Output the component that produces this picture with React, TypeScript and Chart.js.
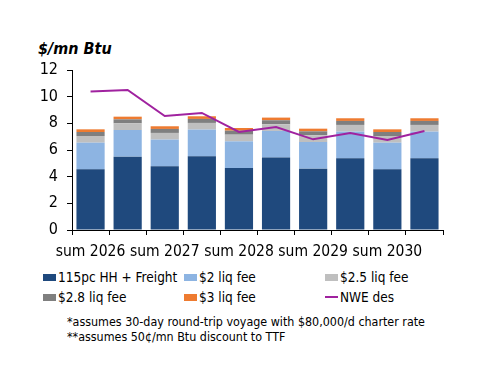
import React, { useEffect, useRef } from "react";
import { Chart, registerables } from "chart.js";

Chart.register(...registerables);

const categories = [
  "sum 2026", "win 2026", "sum 2027", "win 2027", "sum 2028",
  "win 2028", "sum 2029", "win 2029", "sum 2030", "win 2030",
];
const baseHHFreight = [4.55, 5.5, 4.78, 5.53, 4.65, 5.43, 4.6, 5.38, 4.55, 5.38];
const liq2 = [2.0, 2.0, 2.0, 2.0, 2.0, 2.0, 2.0, 2.0, 2.0, 2.0];
const liq25 = [0.5, 0.5, 0.5, 0.5, 0.5, 0.5, 0.5, 0.5, 0.5, 0.5];
const liq28 = [0.3, 0.3, 0.3, 0.3, 0.3, 0.3, 0.3, 0.3, 0.3, 0.3];
const liq3 = [0.2, 0.2, 0.2, 0.2, 0.2, 0.2, 0.2, 0.2, 0.2, 0.2];
const nweDes = [10.38, 10.5, 8.55, 8.78, 7.35, 7.73, 6.8, 7.28, 6.75, 7.43];
const yTicks = [0, 2, 4, 6, 8, 10, 12];

const COLORS = {
  base: "#1F497D",
  liq2: "#8DB4E2",
  liq25: "#BFBFBF",
  liq28: "#7F7F7F",
  liq3: "#EE7B30",
  nwe: "#A0229F",
};

const FONT = "'DejaVu Sans Condensed', 'DejaVu Sans', sans-serif";

const legendItems = [
  { label: "115pc HH + Freight", color: COLORS.base, type: "box" },
  { label: "$2 liq fee", color: COLORS.liq2, type: "box" },
  { label: "$2.5 liq fee", color: COLORS.liq25, type: "box" },
  { label: "$2.8 liq fee", color: COLORS.liq28, type: "box" },
  { label: "$3 liq fee", color: COLORS.liq3, type: "box" },
  { label: "NWE des", color: COLORS.nwe, type: "line" },
];

export default function App() {
  const canvasRef = useRef<HTMLCanvasElement | null>(null);

  useEffect(() => {
    if (!canvasRef.current) return;
    const barCommon = { stack: "bars", order: 1, barPercentage: 0.76, categoryPercentage: 1.0 };
    const chart = new Chart(canvasRef.current, {
      type: "bar",
      data: {
        labels: categories,
        datasets: [
          { label: "115pc HH + Freight", data: baseHHFreight, backgroundColor: COLORS.base, ...barCommon },
          { label: "$2 liq fee", data: liq2, backgroundColor: COLORS.liq2, ...barCommon },
          { label: "$2.5 liq fee", data: liq25, backgroundColor: COLORS.liq25, ...barCommon },
          { label: "$2.8 liq fee", data: liq28, backgroundColor: COLORS.liq28, ...barCommon },
          { label: "$3 liq fee", data: liq3, backgroundColor: COLORS.liq3, ...barCommon },
          {
            type: "line",
            label: "NWE des",
            data: nweDes,
            borderColor: COLORS.nwe,
            backgroundColor: COLORS.nwe,
            borderWidth: 2,
            pointRadius: 0,
            tension: 0,
            stack: "line",
            order: 0,
          } as any,
        ],
      },
      options: {
        animation: false,
        responsive: false,
        maintainAspectRatio: false,
        layout: { padding: { left: 0, right: 57, top: 70, bottom: 0 } },
        plugins: {
          legend: { display: false },
          tooltip: { enabled: false },
          title: { display: false },
        },
        scales: {
          x: {
            stacked: true,
            grid: {
              display: true,
              drawOnChartArea: false,
              drawTicks: true,
              tickLength: 5,
              color: "#000",
              offset: true,
            },
            border: { display: true, color: "#000", width: 1 },
            ticks: {
              autoSkip: false,
              maxRotation: 0,
              color: "#000",
              padding: 8,
              font: { family: FONT, size: 15.5 },
              callback: (_v: any, i: number) => (i % 2 === 0 ? categories[i] : ""),
            },
            afterFit: (scale: any) => {
              scale.height = 35;
            },
          },
          y: {
            stacked: true,
            min: 0,
            max: 12,
            grid: {
              display: true,
              drawOnChartArea: false,
              drawTicks: true,
              tickLength: 5,
              color: "#000",
            },
            border: { display: true, color: "#000", width: 1 },
            ticks: {
              stepSize: 2,
              color: "#000",
              padding: 9,
              font: { family: FONT, size: 16 },
              callback: (v: any) => (yTicks.includes(Number(v)) ? String(v) : ""),
            },
            afterFit: (scale: any) => {
              scale.width = 72;
            },
          },
        },
      },
    });
    return () => chart.destroy();
  }, []);

  const colX = [43, 184, 325];
  const rowY = [277, 297];

  return (
    <div style={{ position: "absolute", left: 0, top: 0, width: 500, height: 386, background: "#fff", fontFamily: FONT }}>
      <div
        style={{
          position: "absolute",
          left: 38,
          top: 38,
          fontSize: 16,
          fontWeight: "bold",
          fontStyle: "italic",
          fontFamily: FONT,
          lineHeight: "22px",
          color: "#000",
          whiteSpace: "nowrap",
        }}
      >
        $/mn Btu
      </div>
      <canvas ref={canvasRef} width={500} height={265} style={{ position: "absolute", left: 0, top: 0, width: 500, height: 265 }} />
      {legendItems.map((it, i) => {
        const x = colX[i % 3];
        const y = rowY[Math.floor(i / 3)];
        return (
          <div
            key={it.label}
            style={{
              position: "absolute",
              left: x,
              top: y - 10,
              height: 20,
              display: "flex",
              alignItems: "center",
              fontSize: 13.5,
              color: "#000",
              whiteSpace: "nowrap",
              fontFamily: FONT,
            }}
          >
            {it.type === "box" ? (
              <span style={{ display: "inline-block", width: 13, height: 7, background: it.color, marginRight: 2 }} />
            ) : (
              <span style={{ display: "inline-block", width: 13, height: 2, background: it.color, marginRight: 2 }} />
            )}
            <span>{it.label}</span>
          </div>
        );
      })}
      <div
        style={{
          position: "absolute",
          left: 67,
          top: 314,
          fontSize: 12.4,
          lineHeight: "15px",
          color: "#000",
          whiteSpace: "nowrap",
          fontFamily: FONT,
        }}
      >
        <div>*assumes 30-day round-trip voyage with $80,000/d charter rate</div>
        <div>**assumes 50¢/mn Btu discount to TTF</div>
      </div>
    </div>
  );
}
